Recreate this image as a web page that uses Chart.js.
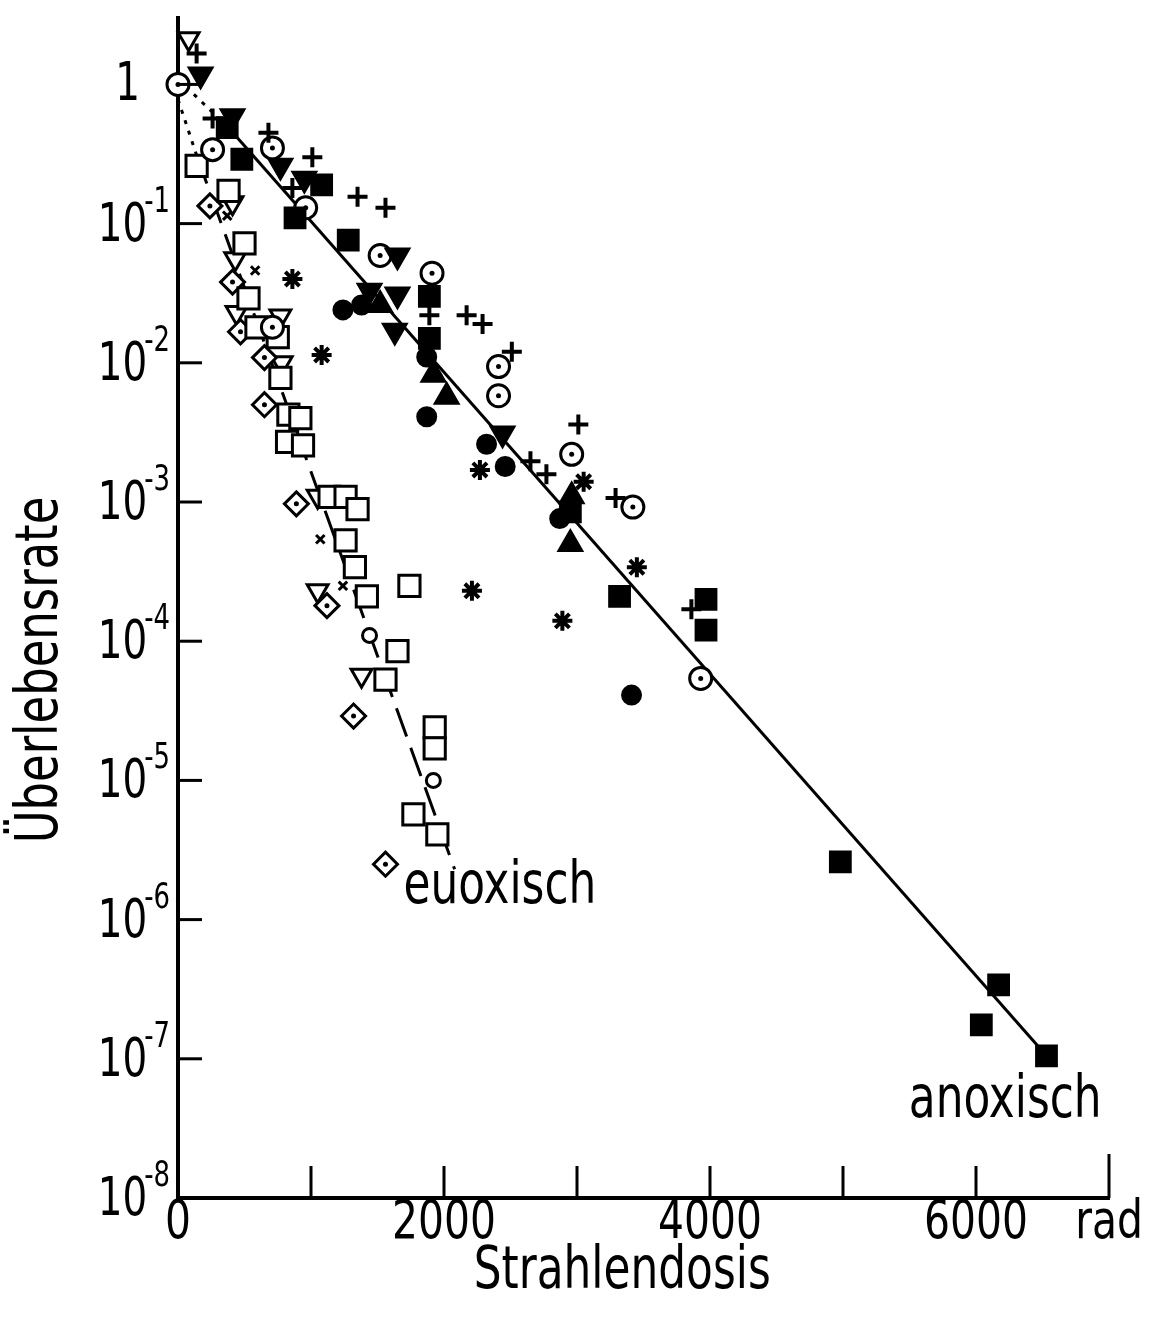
<!DOCTYPE html>
<html lang="de">
<head>
<meta charset="utf-8">
<title>Überlebensrate und Strahlendosis</title>
<script src="https://cdn.jsdelivr.net/npm/chart.js@4.4.1/dist/chart.umd.min.js"></script>
<style>
  html, body { margin: 0; padding: 0; background: #fff; }
  #chart { display: block; }
</style>
</head>
<body>
<canvas id="chart" width="1152" height="1318"></canvas>
<script>
// Dose in rad, survival as a fraction
const xTicks = [0, 1000, 2000, 3000, 4000, 5000, 6000, 7000];
const xTickLabels = ["0", "", "2000", "", "4000", "", "6000", "rad"];
const yTicks = [1, 1e-1, 1e-2, 1e-3, 1e-4, 1e-5, 1e-6, 1e-7, 1e-8];
const yExponents = [0, -1, -2, -3, -4, -5, -6, -7, -8];

// anoxisch measurements
const filledSquares = [[370, 0.49], [480, 0.29], [1080, 0.19], [880, 0.11], [1280, 0.076], [1890, 0.030], [1890, 0.015], [2950, 8.5e-4], [3320, 2.1e-4], [3970, 2.0e-4], [3970, 1.2e-4], [4980, 2.6e-6], [6170, 3.4e-7], [6040, 1.75e-7], [6530, 1.05e-7]];
const filledCircles = [[1240, 0.024], [1380, 0.026], [1870, 0.011], [1870, 4.1e-3], [2320, 2.6e-3], [2460, 1.8e-3], [2870, 7.6e-4], [3410, 4.1e-5]];
const filledUp = [[1520, 0.026], [1920, 8.2e-3], [2020, 5.7e-3], [2960, 1.1e-3], [2950, 5.0e-4]];
const filledDown = [[170, 1.18], [410, 0.59], [770, 0.26], [950, 0.21], [1650, 0.059], [1440, 0.033], [1650, 0.031], [1630, 0.017], [2440, 3.1e-3]];
const pluses = [[140, 1.67], [260, 0.57], [680, 0.45], [1010, 0.30], [860, 0.18], [1350, 0.156], [1560, 0.13], [1890, 0.022], [2170, 0.022], [2290, 0.019], [2510, 0.012], [2650, 1.96e-3], [2770, 1.58e-3], [3010, 3.6e-3], [3290, 1.07e-3], [3860, 1.7e-4]];
const stars = [[860, 0.040], [1080, 0.0114], [2270, 1.7e-3], [3050, 1.4e-3], [3450, 3.4e-4], [2210, 2.3e-4], [2890, 1.4e-4]];
const dottedCircles = [[0, 1.0], [260, 0.34], [710, 0.35], [960, 0.13], [1520, 0.059], [1910, 0.044], [2410, 9.4e-3], [2410, 5.8e-3], [2960, 2.2e-3], [3420, 9.2e-4], [3930, 5.4e-5], [710, 0.018]];

// euoxisch measurements
const openSquares = [[140, 0.26], [380, 0.172], [500, 0.072], [530, 0.029], [590, 0.018], [750, 0.0153], [770, 7.8e-3], [830, 4.25e-3], [920, 4.0e-3], [820, 2.7e-3], [940, 2.55e-3], [1140, 1.09e-3], [1260, 1.09e-3], [1350, 8.9e-4], [1260, 5.3e-4], [1330, 3.4e-4], [1420, 2.1e-4], [1740, 2.5e-4], [1650, 8.5e-5], [1560, 5.3e-5], [1930, 2.4e-5], [1930, 1.7e-5], [1770, 5.7e-6], [1950, 4.1e-6]];
const openDiamonds = [[240, 0.134], [410, 0.038], [470, 0.0167], [650, 0.0109], [650, 5.0e-3], [890, 9.7e-4], [1120, 1.8e-4], [1320, 2.9e-5], [1560, 2.5e-6]];
const openDown = [[80, 2.13], [410, 0.141], [430, 0.056], [440, 0.023], [770, 0.0217], [780, 0.010], [1050, 1.1e-3], [1050, 2.3e-4], [1380, 5.7e-5]];
const smallCrosses = [[370, 0.114], [580, 0.046], [1240, 2.5e-4], [1070, 5.4e-4]];
const smallRings = [[1440, 1.1e-4], [1920, 1.0e-5]];

// fitted curves
const anoxFit = [[370, 0.50], [6530, 1.05e-7]];
const anoxShoulder = [[0, 1.09], [370, 0.50]];
const euoxShoulder = [[0, 0.78], [140, 0.31]];
const euoxFit = [[140, 0.31], [2080, 2.3e-6]];

const FONT = "'Liberation Sans Narrow', 'DejaVu Sans Condensed', 'DejaVu Sans', sans-serif";
const INK = "#000";
const NARROW = 0.84; // horizontal squeeze for the lettering

const pts = (arr) => arr.map(([x, y]) => ({ x, y }));

function marks(data, style, radius, opts = {}) {
  return Object.assign({
    data: pts(data),
    pointStyle: style,
    pointRadius: radius,
    pointHoverRadius: radius,
    pointBorderColor: INK,
    pointBackgroundColor: INK,
    pointBorderWidth: 3,
    showLine: false,
    clip: false,
  }, opts);
}

function curve(data, dash) {
  return {
    data: pts(data),
    showLine: true,
    borderColor: INK,
    borderWidth: 3,
    borderDash: dash,
    pointRadius: 0,
    pointHoverRadius: 0,
    clip: false,
  };
}

// narrow text helper
function label(ctx, text, x, y, size, align, baseline, squeeze = NARROW) {
  ctx.save();
  ctx.translate(x, y);
  ctx.scale(squeeze, 1);
  ctx.font = `${size}px ${FONT}`;
  ctx.textAlign = align;
  ctx.textBaseline = baseline;
  ctx.fillText(text, 0, 0);
  ctx.restore();
}

// axis decorations: inward ticks, tick labels, titles, curve names
const axisDecor = {
  id: "axisDecor",
  afterDraw(chart) {
    const { ctx, chartArea, scales } = chart;
    const xs = scales.x, ys = scales.y;
    ctx.save();
    ctx.strokeStyle = INK;
    ctx.fillStyle = INK;
    ctx.lineWidth = 3;

    yTicks.slice(0, -1).forEach((v) => {
      const py = ys.getPixelForValue(v);
      ctx.beginPath();
      ctx.moveTo(chartArea.left, py);
      ctx.lineTo(chartArea.left + 24, py);
      ctx.stroke();
    });
    xTicks.slice(1).forEach((v, i, a) => {
      const px = xs.getPixelForValue(v);
      ctx.beginPath();
      ctx.moveTo(px, chartArea.bottom);
      ctx.lineTo(px, chartArea.bottom - (i === a.length - 1 ? 44 : 32));
      ctx.stroke();
    });

    // y tick labels as 10 with raised exponent
    const right = chartArea.left - 8;
    yTicks.forEach((v, i) => {
      const py = ys.getPixelForValue(v);
      const e = yExponents[i];
      if (e === 0) {
        label(ctx, "1", right - 30, py + 2, 54, "right", "middle", 0.8);
        return;
      }
      const sup = "-" + Math.abs(e);
      ctx.font = `36px ${FONT}`;
      const supW = ctx.measureText(sup).width * 0.8;
      label(ctx, sup, right - supW, py - 12, 36, "left", "alphabetic", 0.8);
      label(ctx, "10", right - supW + 3, py + 3, 54, "right", "middle", 0.8);
    });

    // x tick labels
    xTicks.forEach((v, i) => {
      if (!xTickLabels[i]) return;
      label(ctx, xTickLabels[i], xs.getPixelForValue(v), chartArea.bottom + 26, 54, "center", "middle");
    });

    label(ctx, "Strahlendosis", xs.getPixelForValue(3340), chartArea.bottom + 75, 58, "center", "middle");

    ctx.save();
    ctx.translate(42, 670);
    ctx.rotate(-Math.PI / 2);
    label(ctx, "Überlebensrate", 0, 0, 58, "center", "middle", 0.86);
    ctx.restore();

    label(ctx, "euoxisch", xs.getPixelForValue(2420), ys.getPixelForValue(1.7e-6), 58, "center", "middle");
    label(ctx, "anoxisch", xs.getPixelForValue(6220), ys.getPixelForValue(4.9e-8), 58, "center", "middle");
    ctx.restore();
  },
};

new Chart(document.getElementById("chart"), {
  type: "scatter",
  data: {
    datasets: [
      // centre dots of the ringed symbols, drawn on top
      marks(dottedCircles.concat(openDiamonds), "circle", 2.5, { pointBorderWidth: 0 }),
      marks(filledSquares, "rect", 14),
      marks(filledCircles, "circle", 9),
      marks(filledUp, "triangle", 13),
      marks(filledDown, "triangle", 13, { pointRotation: 180 }),
      marks(pluses, "cross", 10, { pointBorderWidth: 4 }),
      marks(stars, "star", 10, { pointBorderWidth: 4 }),
      marks(dottedCircles, "circle", 11, { pointBackgroundColor: "#fff" }),
      marks(openSquares, "rect", 15, { pointBackgroundColor: "#fff" }),
      marks(openDiamonds, "rectRot", 12, { pointBackgroundColor: "#fff" }),
      marks(openDown, "triangle", 12, { pointRotation: 180, pointBackgroundColor: "#fff" }),
      marks(smallCrosses, "crossRot", 6),
      marks(smallRings, "circle", 7, { pointBackgroundColor: "#fff" }),
      curve(anoxFit, []),
      curve(anoxShoulder, [4, 7]),
      curve(euoxShoulder, [4, 7]),
      curve(euoxFit, [30, 12]),
    ],
  },
  options: {
    responsive: false,
    animation: false,
    layout: { padding: { left: 178, top: 11, right: 43, bottom: 0 } },
    plugins: { legend: { display: false }, tooltip: { enabled: false } },
    scales: {
      x: {
        type: "linear",
        min: 0,
        max: 7000,
        afterFit: (s) => { s.height = 120; },
        afterBuildTicks: (s) => { s.ticks = xTicks.map((value) => ({ value })); },
        grid: { display: false, drawTicks: false },
        border: { display: true, color: INK, width: 4 },
        ticks: { display: false },
      },
      y: {
        type: "logarithmic",
        min: 1e-8,
        max: 3,
        afterFit: (s) => { s.width = 0; },
        grid: { display: false, drawTicks: false },
        border: { display: true, color: INK, width: 4 },
        ticks: { display: false },
      },
    },
  },
  plugins: [axisDecor],
});
</script>
</body>
</html>
